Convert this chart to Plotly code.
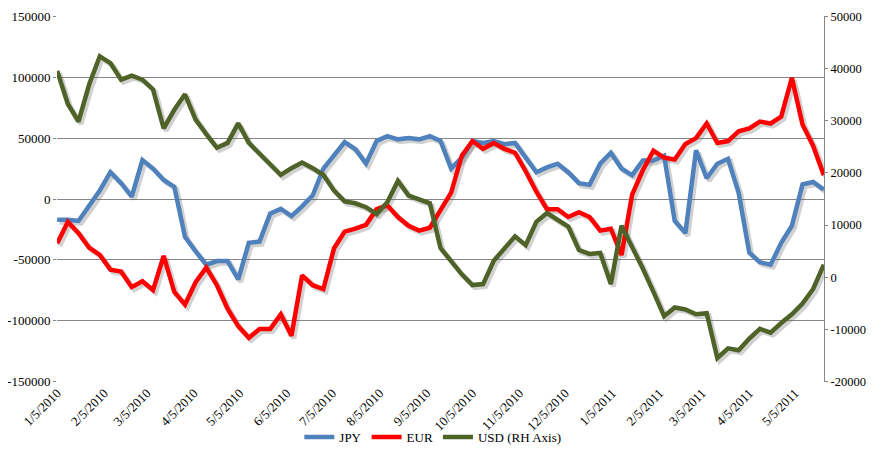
import pandas as pd
import plotly.graph_objects as go

# Weekly dates (Tuesdays) from 1/5/2010 to 5/24/2011
dates = pd.date_range("2010-01-05", "2011-05-24", freq="7D")

jpy = [-17000, -17000, -18000, -6000, 7000, 22000, 13000, 2000, 32000, 25000,
       15600, 10000, -31000, -43000, -54000, -51000, -51000, -66000, -36000, -35000,
       -12000, -8000, -14000, -6000, 3000, 25000, 36000, 46800, 41000, 29000,
       47600, 51600, 49000, 50000, 49000, 51600, 47600, 25000, 34000, 47600,
       46000, 47600, 45000, 46000, 34000, 22000, 26000, 29000, 22000, 13000,
       11600, 29000, 38000, 25000, 19600, 31600, 31600, 35600, -18000, -28000,
       40000, 17000, 29000, 33000, 5000, -44000, -52000, -54000, -36000, -22000,
       12000, 14000, 7600]

eur = [-36400, -18800, -28000, -40000, -46000, -58000, -59600, -72400, -67600, -74800,
       -46800, -76400, -86800, -68400, -56400, -70800, -90000, -104400, -114000, -106800,
       -106800, -94800, -112400, -62800, -70800, -74000, -40400, -26800, -24400, -21200,
       -8400, -5200, -14800, -22000, -26000, -23600, -9200, 5200, 35600, 47600,
       41200, 46000, 41200, 38000, 22800, 6000, -8400, -8400, -14800, -10800,
       -14800, -26000, -24400, -46000, 3600, 23600, 39600, 34000, 32400, 45200,
       50000, 62000, 46000, 47600, 55600, 58000, 63600, 62000, 67600, 99600,
       61200, 43600, 19600]

usd = [39550, 33200, 29850, 36940, 42350, 41050, 37870, 38620, 37870, 36000,
       28550, 32100, 35070, 30220, 27430, 24810, 25750, 29480, 25750, 23700,
       21460, 19600, 20900, 22000, 20900, 19600, 16600, 14550, 14180, 13430,
       12130, 14370, 18470, 15670, 14930, 14180, 5600, 2990, 560, -1490,
       -1300, 3170, 5600, 7840, 6160, 10630, 12310, 11000, 9700, 5220,
       4480, 4660, -1300, 9890, 5970, 1680, -2800, -7460, -5780, -6160,
       -7090, -6900, -15490, -13620, -13990, -11750, -9890, -10630, -8770, -7090,
       -5040, -2240, 2430]

tick_dates = pd.date_range("2010-01-01", "2011-05-01", freq="MS") + pd.Timedelta(days=4)
tick_labels = [f"{d.month}/{d.day}/{d.year}" for d in tick_dates]

left_ticks = [-150000, -100000, -50000, 0, 50000, 100000, 150000]
right_ticks = [-20000, -10000, 0, 10000, 20000, 30000, 40000, 50000]

BLUE = "#4F81BD"
RED = "#FF0000"
GREEN = "#4F6228"
SHADOW = "rgba(90,90,90,0.28)"
FONT = "Liberation Serif, DejaVu Serif, Times New Roman, serif"

W, H = 867, 447          # page body has an 8px margin
ML, MR, MT, MB = 49, 51, 8, 73
plot_w, plot_h = W - ML - MR, H - MT - MB

x0, x1 = dates[0], dates[-1]
pad = pd.Timedelta(hours=3)
days = (x1 - x0).days
sx = pd.Timedelta(days=days * 2.5 / plot_w)
sy_left = 300000 * 2.5 / plot_h
sy_right = 70000 * 2.5 / plot_h
eps_l = 300
eps_r = 70

fig = go.Figure()

# shadows (base, hidden axes, shifted ranges)
for vals, ya in ((jpy, "y"), (eur, "y"), (usd, "y4")):
    fig.add_trace(go.Scatter(x=dates, y=vals, xaxis="x", yaxis=ya, mode="lines",
                             line=dict(color=SHADOW, width=5), showlegend=False,
                             hoverinfo="skip"))

# main lines
fig.add_trace(go.Scatter(x=dates, y=jpy, name="JPY", xaxis="x2", yaxis="y2", mode="lines",
                         line=dict(color=BLUE, width=4.5)))
fig.add_trace(go.Scatter(x=dates, y=eur, name="EUR", xaxis="x2", yaxis="y2", mode="lines",
                         line=dict(color=RED, width=4.5)))
fig.add_trace(go.Scatter(x=dates, y=usd, name="USD (RH Axis)", xaxis="x2", yaxis="y3", mode="lines",
                         line=dict(color=GREEN, width=4.5)))

fig.update_layout(
    width=W, height=H,
    margin=dict(l=ML, r=MR, t=MT, b=MB, autoexpand=False),
    paper_bgcolor="white", plot_bgcolor="white",
    font=dict(family=FONT, size=13, color="black"),
    showlegend=True,
    legend=dict(orientation="h", x=0.49, xanchor="center", y=(plot_h - 429 + MT) / plot_h,
                yanchor="middle",
                font=dict(family=FONT, size=13, color="black"), itemwidth=30,
                tracegroupgap=0, bgcolor="rgba(0,0,0,0)"),
    xaxis=dict(visible=False, range=[x0 - pad - sx, x1 + pad - sx], showgrid=False,
               zeroline=False, automargin=False),
    yaxis=dict(visible=False, range=[-150000 - eps_l + sy_left, 150000 + eps_l + sy_left],
               showgrid=False, zeroline=False, automargin=False),
    yaxis4=dict(visible=False, overlaying="y",
                range=[-20000 - eps_r + sy_right, 50000 + eps_r + sy_right],
                showgrid=False, zeroline=False, automargin=False),
    xaxis2=dict(overlaying="x", anchor="y2", range=[x0 - pad, x1 + pad], tickmode="array",
                tickvals=tick_dates, ticktext=tick_labels, tickangle=-45,
                showgrid=False, zeroline=False, showline=False, ticks="",
                automargin=False, ticklabeloverflow="allow",
                tickfont=dict(family=FONT, size=13, color="black")),
    yaxis2=dict(overlaying="y", anchor="x2", range=[-150000 - eps_l, 150000 + eps_l],
                tickmode="array", tickvals=left_ticks, ticktext=[str(v) for v in left_ticks],
                showgrid=True, gridcolor="#868686", gridwidth=1, zeroline=False,
                showline=False, ticks="outside", ticklen=3, tickcolor="#868686",
                automargin=False, ticklabeloverflow="allow",
                tickfont=dict(family=FONT, size=13, color="black")),
    yaxis3=dict(overlaying="y", anchor="x2", side="right", range=[-20000 - eps_r, 50000 + eps_r],
                tickmode="array", tickvals=right_ticks,
                ticktext=[str(v) for v in right_ticks],
                showgrid=False, zeroline=False, showline=True, linecolor="#868686",
                linewidth=1, ticks="outside", ticklen=3, tickcolor="#868686",
                automargin=False, ticklabeloverflow="allow",
                tickfont=dict(family=FONT, size=12.5, color="black")),
)

fig.write_html("out.html")
